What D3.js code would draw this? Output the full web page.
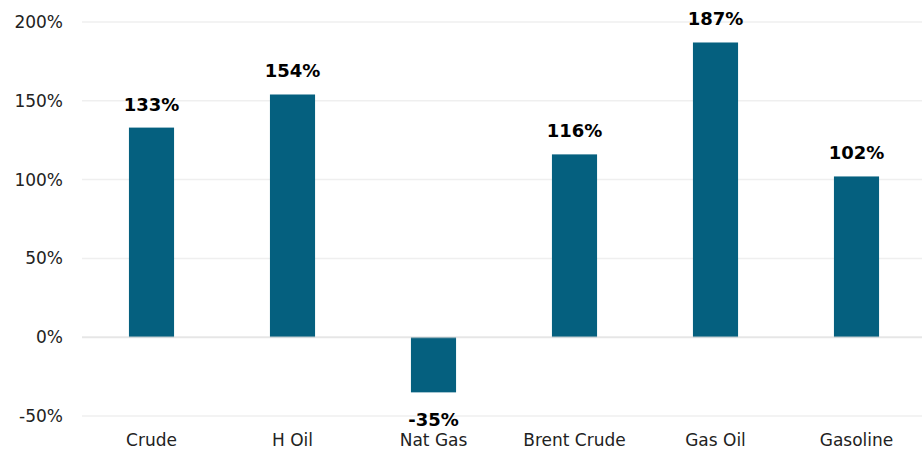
<!DOCTYPE html>
<html>
<head>
<meta charset="utf-8">
<script src="https://cdn.jsdelivr.net/npm/d3@7"></script>
<style>
	body { margin: 0; background: #fff; }
	svg { display: block; font-family: "DejaVu Sans", sans-serif; }
	.axis .domain { display: none; }
	.axis line { display: none; }
	.axis text { font-family: "DejaVu Sans", sans-serif; font-size: 17px; fill: #222; }
	.value { font-size: 18px; font-weight: 700; fill: #000; }
</style>
</head>
<body>
<div id="chart"></div>
<script>
var categories = ['Crude', 'H Oil', 'Nat Gas', 'Brent Crude', 'Gas Oil', 'Gasoline'];
var values = [133, 154, -35, 116, 187, 102];
var yTicks = [-50, 0, 50, 100, 150, 200];

var width = 922,
	height = 450,
	margin = { top: 22, right: -5, bottom: 34, left: 81 };

var drawWidth = width - margin.left - margin.right,
	drawHeight = height - margin.top - margin.bottom;

var data = categories.map(function(c, i) { return { x: c, y: values[i] }; });

var svg = d3.select('#chart').append('svg')
	.attr('width', width)
	.attr('height', height);

var xScale = d3.scaleBand()
	.domain(categories)
	.range([margin.left, margin.left + drawWidth])
	.paddingInner(0.68)
	.paddingOuter(0.34);

var yScale = d3.scaleLinear()
	.domain([-50, 200])
	.range([margin.top + drawHeight, margin.top]);

// gridlines
svg.append('g').selectAll('line')
	.data(yTicks.filter(function(d) { return d !== 0; }))
	.enter().append('line')
	.attr('x1', margin.left + 1)
	.attr('x2', width)
	.attr('y1', function(d) { return yScale(d); })
	.attr('y2', function(d) { return yScale(d); })
	.attr('stroke', '#efefef')
	.attr('stroke-width', 1.5);

// bars
svg.append('g').selectAll('rect')
	.data(data)
	.enter().append('rect')
	.attr('x', function(d) { return xScale(d.x); })
	.attr('y', function(d) { return yScale(Math.max(0, d.y)); })
	.attr('width', xScale.bandwidth())
	.attr('height', function(d) { return Math.abs(yScale(d.y) - yScale(0)); })
	.attr('fill', '#05607f');

// zero line drawn over the bars
svg.append('line')
	.attr('x1', margin.left + 1)
	.attr('x2', width)
	.attr('y1', yScale(0))
	.attr('y2', yScale(0))
	.attr('stroke', '#d6d6d6')
	.attr('stroke-opacity', 0.6)
	.attr('stroke-width', 2);

// value labels
svg.append('g').selectAll('text')
	.data(data)
	.enter().append('text')
	.attr('class', 'value')
	.attr('x', function(d) { return xScale(d.x) + xScale.bandwidth() / 2; })
	.attr('y', function(d) { return d.y >= 0 ? yScale(d.y) - 17 : yScale(d.y) + 34; })
	.attr('text-anchor', 'middle')
	.text(function(d) { return d.y + '%'; });

// axes
var yAxis = d3.axisLeft(yScale)
	.tickValues(yTicks)
	.tickSize(0)
	.tickPadding(18)
	.tickFormat(function(d) { return d + '%'; });

svg.append('g')
	.attr('class', 'axis y')
	.attr('transform', 'translate(' + margin.left + ',0)')
	.call(yAxis);

var xAxis = d3.axisBottom(xScale)
	.tickSize(0)
	.tickPadding(18);

svg.append('g')
	.attr('class', 'axis x')
	.attr('transform', 'translate(0,' + (margin.top + drawHeight) + ')')
	.call(xAxis);
</script>
</body>
</html>
